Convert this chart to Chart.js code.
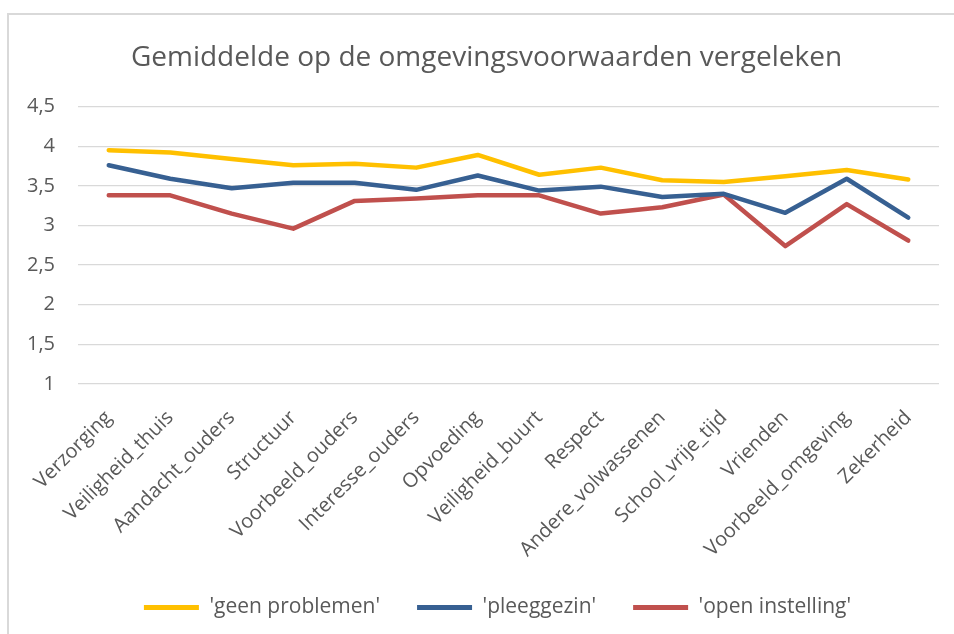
<!DOCTYPE html>
<html>
<head>
<meta charset="utf-8">
<script src="https://cdn.jsdelivr.net/npm/chart.js@4/dist/chart.umd.min.js"></script>
<style>
	html, body { margin: 0; padding: 0; background: #fff; overflow: hidden; }
	#wrap { position: relative; width: 954px; height: 634px; }
	#frame { position: absolute; left: 7px; top: 13px; width: 980px; height: 660px; border: 2px solid #d9d9d9; box-sizing: border-box; }
	#chart-canvas { position: absolute; left: 0; top: 0; }
</style>
</head>
<body>
<div id="wrap">
	<div id="frame"></div>
	<canvas id="chart-canvas" width="954" height="634"></canvas>
</div>
<script>
const categories = ['Verzorging', 'Veiligheid_thuis', 'Aandacht_ouders', 'Structuur', 'Voorbeeld_ouders', 'Interesse_ouders', 'Opvoeding', 'Veiligheid_buurt', 'Respect', 'Andere_volwassenen', 'School_vrije_tijd', 'Vrienden', 'Voorbeeld_omgeving', 'Zekerheid']
const geen_problemen = [3.95, 3.92, 3.84, 3.76, 3.78, 3.73, 3.89, 3.64, 3.73, 3.57, 3.55, 3.62, 3.70, 3.58]
const pleeggezin = [3.76, 3.59, 3.47, 3.54, 3.54, 3.45, 3.63, 3.44, 3.49, 3.36, 3.40, 3.16, 3.59, 3.10]
const open_instelling = [3.38, 3.38, 3.15, 2.96, 3.31, 3.34, 3.38, 3.38, 3.15, 3.23, 3.39, 2.74, 3.27, 2.81]
const series_names = ["'geen problemen'", "'pleeggezin'", "'open instelling'"]
const y_ticks = [1, 1.5, 2, 2.5, 3, 3.5, 4, 4.5]

const font_family = "'Open Sans', 'Liberation Sans', sans-serif"
const text_colour = '#595959'

function make_dataset(label, data, colour) {
	return {
		label: label,
		data: data,
		borderColor: colour,
		backgroundColor: colour,
		borderWidth: 4.5,
		pointRadius: 0,
		tension: 0,
		borderJoinStyle: 'round',
		borderCapStyle: 'round'
	}
}

// nudge title and legend sideways, the excel original centres them a bit further right
const shift_boxes = {
	id: 'shift_boxes',
	afterLayout(c) {
		if (c.titleBlock) {
			c.titleBlock.left += 17
			c.titleBlock.right += 17
		}
		if (c.legend) {
			c.legend.left += 28
			c.legend.right += 28
		}
	}
}

let chart = new Chart(document.getElementById('chart-canvas'), {
	type: 'line',
	data: {
		labels: categories,
		datasets: [
			make_dataset(series_names[0], geen_problemen, '#FFC000'),
			make_dataset(series_names[1], pleeggezin, '#376092'),
			make_dataset(series_names[2], open_instelling, '#C0504D')
		]
	},
	plugins: [shift_boxes],
	options: {
		responsive: false,
		animation: false,
		layout: {
			padding: { left: 0, right: 15, top: 0, bottom: 6 }
		},
		scales: {
			x: {
				offset: true,
				grid: { display: false },
				border: { display: false },
				ticks: {
					color: text_colour,
					font: { family: font_family, size: 20 },
					minRotation: 45,
					maxRotation: 45,
					autoSkip: false,
					padding: 14
				},
				afterFit: (scale) => { scale.height = 176 }
			},
			y: {
				min: 1,
				max: 4.5,
				afterBuildTicks: (scale) => { scale.ticks = y_ticks.map(v => ({ value: v })) },
				grid: { color: '#d9d9d9', lineWidth: 1.3, drawTicks: false },
				border: { display: false },
				ticks: {
					color: text_colour,
					font: { family: font_family, size: 20 },
					padding: 23,
					callback: (value) => String(value).replace('.', ',')
				},
				afterFit: (scale) => { scale.width = 78 }
			}
		},
		plugins: {
			title: {
				display: true,
				text: 'Gemiddelde op de omgevingsvoorwaarden vergeleken',
				color: text_colour,
				font: { family: font_family, size: 28, weight: 'normal' },
				padding: { top: 41, bottom: 32 }
			},
			legend: {
				position: 'bottom',
				labels: {
					color: text_colour,
					font: { family: font_family, size: 21 },
					boxWidth: 55,
					boxHeight: 5,
					padding: 37,
					generateLabels: (c) => {
						let items = Chart.defaults.plugins.legend.labels.generateLabels(c)
						items.forEach(item => { item.lineWidth = 0 })
						return items
					}
				}
			},
			tooltip: { enabled: false }
		}
	}
})
</script>
</body>
</html>
